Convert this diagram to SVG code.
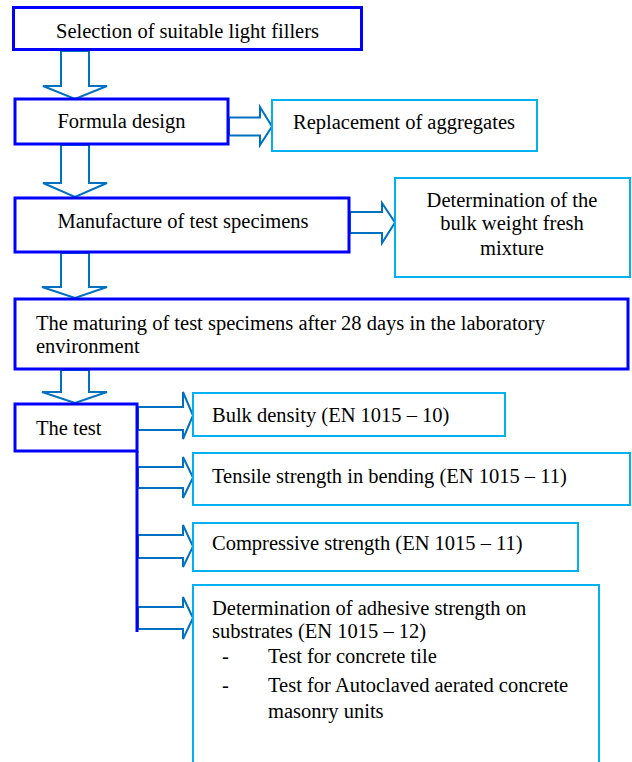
<svg xmlns="http://www.w3.org/2000/svg" width="632" height="762" viewBox="0 0 632 762">
<style>
.dark{fill:#fff;stroke:#0000ff;stroke-width:3}
.light{fill:#fff;stroke:#00b0f0;stroke-width:2}
.arr{fill:#fff;stroke:#0070c0;stroke-width:2;stroke-linejoin:miter}
.line{fill:none;stroke:#0000ff;stroke-width:3}
.c{text-anchor:middle}
</style>
<rect width="632" height="762" fill="#fff"/>
<g id="connectors">
<polygon class="arr" points="61,51 61,86 43,86 75,99 107,86 89,86 89,51"/>
<polygon class="arr" points="61,145 61,183 43,183 75,197 107,183 89,183 89,145"/>
<polygon class="arr" points="61,253 61,287 42,287 75,298 107,287 89,287 89,253"/>
<polygon class="arr" points="61,370 61,392 42,392 75,403 107,392 89,392 89,370"/>
<polygon class="arr" points="229,117.5 260,117.5 260,107 272,126.5 260,145 260,135.5 229,135.5"/>
<polygon class="arr" points="350,212 382,212 382,203 395,222.5 382,243 382,233 350,233"/>
<polygon class="arr" points="138,407 183,407 183,392 193,415.5 183,439 183,430 138,430"/>
<polygon class="arr" points="138,467 183,467 183,457 193,477.5 183,498 183,488 138,488"/>
<polygon class="arr" points="138,535 183,535 183,525 193,546.5 183,567 183,558 138,558"/>
<polygon class="arr" points="138,607 183,607 183,597 193,618 183,639 183,629 138,629"/>
<line class="line" x1="137" y1="451" x2="137" y2="632"/>
</g>
<g font-family="Liberation Serif, Times New Roman, serif" font-size="20.5" fill="#000">
<g id="n1"><rect class="dark" x="13.5" y="7.5" width="348" height="42"/><text class="c" x="187.5" y="38">Selection of suitable light fillers</text></g>
<g id="n2"><rect class="dark" x="15" y="99" width="213" height="45"/><text class="c" x="121.5" y="128">Formula design</text></g>
<g id="n3"><rect class="light" x="272" y="100" width="265" height="51"/><text class="c" x="404" y="129">Replacement of aggregates</text></g>
<g id="n4"><rect class="dark" x="15" y="198" width="334" height="54"/><text class="c" x="183" y="228">Manufacture of test specimens</text></g>
<g id="n5"><rect class="light" x="395" y="178" width="235" height="99"/><text class="c" x="512" y="207">Determination of the</text><text class="c" x="512" y="230">bulk weight fresh</text><text class="c" x="512" y="255">mixture</text></g>
<g id="n6"><rect class="dark" x="15" y="299" width="613" height="70"/><text x="36" y="330">The maturing of test specimens after 28 days in the laboratory</text><text x="36" y="353">environment</text></g>
<g id="n7"><rect class="dark" x="15" y="404" width="122" height="47"/><text x="36" y="435">The test</text></g>
<g id="n8"><rect class="light" x="193" y="393" width="312" height="43"/><text x="212" y="422">Bulk density (EN 1015 – 10)</text></g>
<g id="n9"><rect class="light" x="193" y="453" width="437" height="52"/><text x="212" y="483">Tensile strength in bending (EN 1015 – 11)</text></g>
<g id="n10"><rect class="light" x="193" y="523" width="385" height="48"/><text x="212" y="550">Compressive strength (EN 1015 – 11)</text></g>
<g id="n11"><rect class="light" x="193" y="585" width="406" height="190"/>
<text x="212" y="615">Determination of adhesive strength on</text>
<text x="212" y="638">substrates (EN 1015 – 12)</text>
<text x="222" y="663">-</text><text x="268" y="663">Test for concrete tile</text>
<text x="222" y="692">-</text><text x="268" y="692">Test for Autoclaved aerated concrete</text>
<text x="268" y="718">masonry units</text>
</g>
</g>
</svg>
